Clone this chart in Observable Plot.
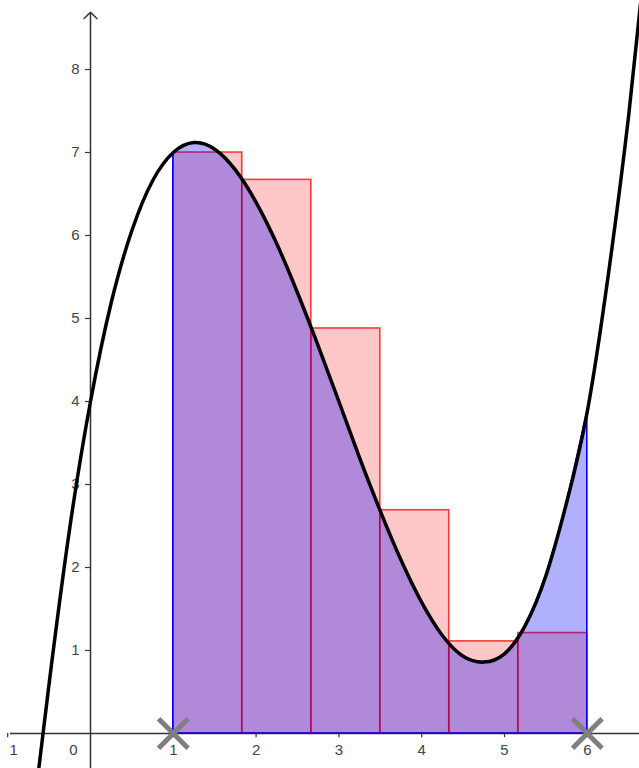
<!DOCTYPE html>
<html>
<head>
<meta charset="utf-8">
<script src="https://cdn.jsdelivr.net/npm/d3@7"></script>
<script src="https://cdn.jsdelivr.net/npm/@observablehq/plot@0.6"></script>
<style>
  html, body { margin: 0; padding: 0; background: #fff; }
  #chart svg { display: block; }
</style>
</head>
<body>
<div id="chart"></div>
<script>
// Curve samples
const curveX = [-0.75, -0.5, -0.25, 0, 0.25, 0.5, 0.75, 1, 1.25, 1.5, 1.75, 2, 2.25, 2.5, 2.75, 3, 3.25, 3.5, 3.75, 4, 4.25, 4.5, 4.75, 5, 5.25, 5.5, 5.75, 6, 6.25, 6.5, 6.75];
const curveY = [-1.45, 0.6, 2.48, 4.0, 5.19, 6.06, 6.66, 7.0, 7.12, 7.04, 6.79, 6.40, 5.90, 5.31, 4.67, 4.0, 3.32, 2.68, 2.09, 1.58, 1.18, 0.93, 0.86, 0.96, 1.3, 1.9, 2.78, 3.88, 5.5, 7.45, 9.8];

// Rectangles (left sum)
const rectX1 = [1, 1.833, 2.667, 3.5, 4.333, 5.167];
const rectX2 = [1.833, 2.667, 3.5, 4.333, 5.167, 6];
const rectH  = [7.0, 6.67, 4.88, 2.69, 1.11, 1.21];

// Interval endpoints (marked with crosses)
const intervalEnds = [1, 6];

// Tick values and labels
const xTicks = [-1, 1, 2, 3, 4, 5, 6];
const xTickLabels = ["1", "1", "2", "3", "4", "5", "6"];
const yTicks = [1, 2, 3, 4, 5, 6, 7, 8];
const yTickLabels = ["1", "2", "3", "4", "5", "6", "7", "8"];
const originLabel = ["0"];

const curve = curveX.map((x, i) => ({x, y: curveY[i]}));
const areaPts = curve.filter(d => d.x >= intervalEnds[0] && d.x <= intervalEnds[1]);
const rects = rectX1.map((x1, i) => ({x1, x2: rectX2[i], h: rectH[i]}));
const xLabelData = xTicks.map((x, i) => ({x, label: xTickLabels[i]}));
const yLabelData = yTicks.map((y, i) => ({y, label: yTickLabels[i]}));

const W = 639, H = 768;
const axisColor = "#333";
const textColor = "#444";
const font = "Liberation Sans, Arial, sans-serif";

const chart = Plot.plot({
  width: W,
  height: H,
  margin: 0,
  style: {background: "#fff", fontFamily: font},
  x: {domain: [-90 / 82.8, 549 / 82.8], axis: null},
  y: {domain: [-35 / 83, 733 / 83], axis: null},
  marks: [
    // axes
    Plot.ruleY([0], {x1: -0.966, x2: 6.7, stroke: axisColor, strokeWidth: 1.5}),
    Plot.arrow([{x1: 0, y1: -0.5, x2: 0, y2: 8.69}], {x1: "x1", y1: "y1", x2: "x2", y2: "y2", stroke: axisColor, strokeWidth: 1.5, headLength: 9, headAngle: 90}),
    Plot.ruleX(xTicks, {x: d => d, y1: 0, y2: -0.05, stroke: axisColor, strokeWidth: 1.2}),
    Plot.ruleY(yTicks, {y: d => d, x1: -0.06, x2: 0, stroke: axisColor, strokeWidth: 1.2}),
    Plot.text(yLabelData, {x: 0, y: "y", dx: -11, text: "label", fill: textColor, fontSize: 15, textAnchor: "end"}),
    // rectangles
    Plot.rect(rects, {x1: "x1", x2: "x2", y1: 0, y2: "h", fill: "red", fillOpacity: 0.22, stroke: "red", strokeOpacity: 0.75, strokeWidth: 1.6}),
    // integral area
    Plot.areaY(areaPts, {x: "x", y: "y", curve: "natural", fill: "blue", fillOpacity: 0.31, stroke: "blue", strokeWidth: 1.6}),
    // function curve
    Plot.line(curve, {x: "x", y: "y", curve: "natural", stroke: "black", strokeWidth: 3.5, clip: true}),
    // interval endpoint markers
    Plot.dot(intervalEnds, {x: d => d, y: 0, symbol: "times", r: 13.5, stroke: "#7f7f7f", strokeWidth: 5}),
    // x tick labels
    Plot.text(xLabelData.filter(d => d.x > 0), {x: "x", y: 0, dy: 17, text: "label", fill: textColor, fontSize: 15, textAnchor: "middle"}),
    Plot.text(xLabelData.filter(d => d.x < 0), {x: "x", y: 0, dy: 17, dx: 6, text: "label", fill: textColor, fontSize: 15, textAnchor: "middle"}),
    Plot.text(originLabel, {x: 0, y: 0, dx: -17, dy: 17, text: d => d, fill: textColor, fontSize: 15, textAnchor: "middle"})
  ]
});

document.getElementById("chart").appendChild(chart);
</script>
</body>
</html>
